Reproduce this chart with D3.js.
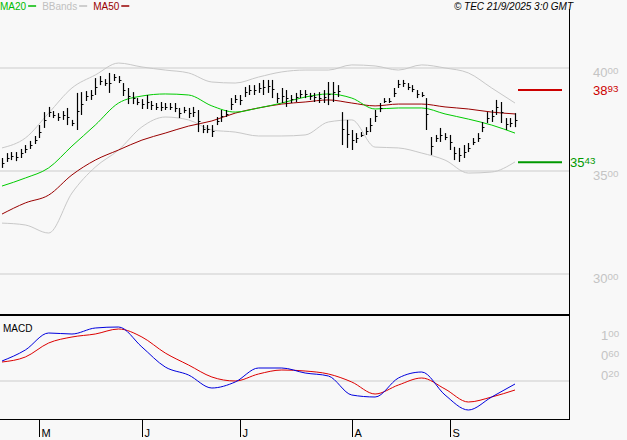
<!DOCTYPE html>
<html><head><meta charset="utf-8">
<script src="https://cdn.jsdelivr.net/npm/d3@7/dist/d3.min.js"></script>
<style>body{margin:0;background:#f8f8f8}svg{display:block}text{font-family:"Liberation Sans",Arial,sans-serif}</style>
</head><body><svg id="c" width="627" height="440"></svg>
<script>
const highs=[3563,3587,3592,3592,3607,3626,3646,3670,3723,3786,3811,3791,3781,3791,3806,3748,3879,3883,3888,3893,3951,3961,3946,3976,3971,3961,3927,3903,3883,3854,3849,3869,3840,3830,3835,3830,3830,3830,3806,3811,3806,3811,3796,3723,3723,3723,3762,3796,3796,3854,3869,3869,3908,3917,3917,3927,3942,3942,3942,3879,3903,3893,3869,3879,3893,3893,3879,3879,3883,3893,3932,3932,3917,3786,3748,3699,3684,3689,3713,3757,3796,3830,3854,3854,3903,3942,3942,3927,3917,3893,3883,3854,3665,3675,3709,3684,3675,3617,3612,3626,3636,3660,3684,3738,3786,3796,3845,3835,3757,3757,3781];
const lows=[3515,3544,3553,3548,3563,3587,3607,3631,3660,3709,3762,3757,3743,3748,3723,3718,3699,3772,3840,3845,3869,3917,3913,3879,3937,3927,3864,3825,3825,3820,3801,3801,3796,3796,3791,3796,3796,3786,3757,3781,3757,3762,3689,3684,3684,3665,3723,3738,3762,3796,3830,3820,3859,3869,3869,3879,3869,3879,3854,3830,3830,3811,3830,3835,3854,3854,3845,3835,3830,3830,3820,3835,3859,3626,3612,3602,3636,3665,3675,3689,3738,3786,3830,3830,3859,3903,3908,3893,3883,3854,3859,3699,3578,3641,3641,3650,3602,3553,3544,3563,3592,3626,3641,3689,3733,3738,3772,3733,3699,3713,3713];
const sampleIdx=d3.range(0,111,5);
const ma20=[3427,3466,3515,3621,3723,3830,3864,3874,3869,3816,3786,3806,3830,3859,3874,3854,3801,3806,3806,3777,3752,3723,3684];
const ma50=[3291,3345,3383,3481,3553,3602,3650,3684,3718,3743,3781,3806,3825,3835,3845,3830,3816,3825,3825,3811,3801,3786,3777];
const bbUp=[3612,3660,3781,3903,3966,4024,4005,3990,3976,3932,3927,3956,3981,3990,3990,4015,4010,3990,4015,4000,3976,3903,3830];
const bbLo=[3247,3238,3199,3393,3519,3602,3714,3762,3748,3699,3689,3670,3670,3675,3738,3748,3616,3612,3587,3553,3490,3495,3544];
const macd=[0.60,0.82,1.16,1.14,1.26,1.28,0.88,0.48,0.32,0.06,0.18,0.46,0.46,0.36,0.30,-0.08,-0.12,0.26,0.38,-0.08,-0.38,-0.12,0.14];
const signal=[0.58,0.68,0.96,1.08,1.14,1.24,1.08,0.76,0.52,0.28,0.20,0.34,0.42,0.40,0.34,0.18,-0.06,0.12,0.26,0.04,-0.22,-0.12,0.02];
const monthLabels=["M","J","J","A","S"];
const monthIdx=[8,30,51,75,96];
const priceTicks=[4000,3500,3000];
const macdTicks=[1.00,0.60,0.20];
const resistance=3893, support=3543;

const svg=d3.select("#c");
const x=d3.scaleLinear().domain([0,110]).range([2,515]);
const y=d3.scaleLinear().domain([3000,4000]).range([274,68]);
const ym=d3.scaleLinear().domain([0.2,1.0]).range([381,341]);
const R=569;
svg.selectAll(".g").data(priceTicks).join("line").attr("x1",0).attr("x2",R).attr("y1",d=>y(d)).attr("y2",d=>y(d)).attr("stroke","#cccccc");
svg.append("line").attr("x1",0).attr("x2",R).attr("y1",ym(0.2)).attr("y2",ym(0.2)).attr("stroke","#cccccc");
function lab(t,xx,yy,col,fs){const s=t.split(" ");const e=svg.append("text").attr("x",xx).attr("y",yy).attr("fill",col).attr("font-size",fs);e.append("tspan").text(s[0]);e.append("tspan").attr("font-size",fs*0.75).attr("dy",-3).text(s[1]);}
priceTicks.forEach(p=>lab(String(p).slice(0,2)+" "+String(p).slice(2),593,y(p)+9,"#c4c4c4",13));
macdTicks.forEach(v=>{const s=v.toFixed(2).split(".");lab(s[0]+" "+s[1],601,ym(v)-1,"#c4c4c4",13);});
const ln=(sc)=>d3.line().x((d,i)=>x(sampleIdx[i])).y(d=>sc(d)).curve(d3.curveMonotoneX);
svg.append("path").attr("d",ln(y)(bbUp)).attr("fill","none").attr("stroke","#c8c8c8");
svg.append("path").attr("d",ln(y)(bbLo)).attr("fill","none").attr("stroke","#c8c8c8");
svg.append("path").attr("d",ln(y)(ma50)).attr("fill","none").attr("stroke","#990000");
svg.append("path").attr("d",ln(y)(ma20)).attr("fill","none").attr("stroke","#00cc00");
const bars=svg.append("g").attr("stroke","#000");
highs.forEach((h,i)=>{const xx=Math.round(x(i))+0.5;
 bars.append("line").attr("x1",xx).attr("x2",xx).attr("y1",y(h)).attr("y2",y(lows[i])).attr("stroke-width",1.2);
 const m=Math.round(y((h+lows[i])/2))+0.5;
 bars.append("line").attr("x1",xx).attr("x2",xx+2).attr("y1",m).attr("y2",m);});
svg.append("line").attr("x1",518).attr("x2",562).attr("y1",y(resistance)).attr("y2",y(resistance)).attr("stroke","#cc0000").attr("stroke-width",2);
svg.append("line").attr("x1",518).attr("x2",562).attr("y1",y(support)).attr("y2",y(support)).attr("stroke","#009900").attr("stroke-width",2);
lab("38 93",593,y(resistance)+5,"#cc0000",13);
lab("35 43",570,y(support)+5,"#009900",13);
svg.append("path").attr("d",ln(ym)(signal)).attr("fill","none").attr("stroke","#dd0000");
svg.append("path").attr("d",ln(ym)(macd)).attr("fill","none").attr("stroke","#0000dd");
svg.append("text").attr("x",3).attr("y",332).attr("font-size",10).attr("fill","#000").text("MACD");
svg.append("line").attr("x1",R+0.5).attr("x2",R+0.5).attr("y1",9).attr("y2",420).attr("stroke","#000");
svg.append("line").attr("x1",0).attr("x2",R).attr("y1",315).attr("y2",315).attr("stroke","#000").attr("stroke-width",2);
svg.append("line").attr("x1",0).attr("x2",R).attr("y1",419.5).attr("y2",419.5).attr("stroke","#000");
monthIdx.forEach((m,i)=>{const xx=Math.round(x(m))+0.5;
 svg.append("line").attr("x1",xx).attr("x2",xx).attr("y1",420).attr("y2",437).attr("stroke","#000");
 svg.append("text").attr("x",xx+2).attr("y",437).attr("font-size",11).text(monthLabels[i]);});
const lg=[["MA20","#00bb00"],["BBands","#c0c0c0"],["MA50","#990000"]];
let lx=0;
lg.forEach(([t,c])=>{const e=svg.append("text").attr("x",lx).attr("y",10).attr("font-size",10).attr("fill",c).text(t);
 const w=e.node().getComputedTextLength();svg.append("line").attr("x1",lx+w+2).attr("x2",lx+w+10).attr("y1",6).attr("y2",6).attr("stroke",c).attr("stroke-width",1.5);lx+=w+16;});
svg.append("text").attr("x",573).attr("y",10).attr("text-anchor","end").attr("font-size",10).attr("font-style","italic").text("© TEC 21/9/2025 3:0 GMT");
</script></body></html>
